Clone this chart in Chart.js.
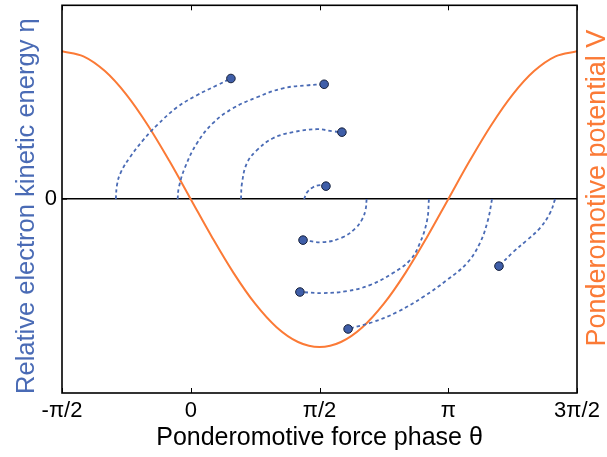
<!DOCTYPE html>
<html><head><meta charset="utf-8">
<script src="https://cdn.jsdelivr.net/npm/chart.js@4/dist/chart.umd.min.js"></script>
<style>html,body{margin:0;padding:0;background:#fff;}#wrap{width:607px;height:457px;}</style>
</head><body><div id="wrap"><canvas id="c" width="607" height="457"></canvas></div>
<script>
// x axis in units of pi
const xTickValues = [-0.5, 0, 0.5, 1, 1.5];
const xTickLabels = ['-π/2', '0', 'π/2', 'π', '3π/2'];
const yTickValues = [0];
const yTickLabels = ['0'];
const xTitle = 'Ponderomotive force phase θ';
const yTitle = 'Relative electron kinetic energy η';
const y2Title = 'Ponderomotive potential V';

// Ponderomotive potential V
const phaseV = [-0.5,-0.4167,-0.3333,-0.25,-0.1667,-0.0833,0,0.0833,0.1667,0.25,0.3333,0.4167,0.5,0.5833,0.6667,0.75,0.8333,0.9167,1,1.0833,1.1667,1.25,1.3333,1.4167,1.5];
const potentialV = [1,0.966,0.866,0.707,0.5,0.259,0,-0.259,-0.5,-0.707,-0.866,-0.966,-1,-0.966,-0.866,-0.707,-0.5,-0.259,0,0.259,0.5,0.707,0.866,0.966,1];

// Electron trajectories (start on zero line, end at dot)
const trajA_x = [-0.291,-0.286,-0.272,-0.236,-0.185,-0.131,-0.053,0.024,0.102,0.156];
const trajA_y = [0,0.1,0.18,0.284,0.399,0.5,0.622,0.703,0.77,0.816];
const trajB_x = [-0.051,-0.046,-0.022,0.024,0.086,0.164,0.257,0.358,0.452,0.518];
const trajB_y = [0,0.081,0.216,0.378,0.514,0.615,0.689,0.75,0.77,0.777];
const trajC_x = [0.195,0.199,0.218,0.257,0.319,0.397,0.490,0.552,0.587];
const trajC_y = [0,0.108,0.243,0.331,0.412,0.453,0.473,0.459,0.453];
const trajD_x = [0.440,0.452,0.475,0.502,0.525];
const trajD_y = [0,0.047,0.081,0.095,0.088];
const trajE_x = [0.683,0.679,0.666,0.640,0.591,0.514,0.436];
const trajE_y = [0,-0.07,-0.135,-0.196,-0.257,-0.291,-0.277];
const trajF_x = [0.925,0.918,0.890,0.852,0.785,0.696,0.607,0.514,0.424];
const trajF_y = [0,-0.142,-0.297,-0.412,-0.5,-0.581,-0.622,-0.635,-0.628];
const trajG_x = [1.170,1.154,1.123,1.073,0.995,0.902,0.801,0.708,0.611];
const trajG_y = [0,-0.142,-0.297,-0.432,-0.547,-0.662,-0.764,-0.831,-0.878];
const trajH_x = [1.415,1.395,1.356,1.306,1.252,1.197];
const trajH_y = [0,-0.095,-0.196,-0.277,-0.358,-0.453];

const trajectories = [
  [trajA_x, trajA_y],[trajB_x, trajB_y],[trajC_x, trajC_y],[trajD_x, trajD_y],
  [trajE_x, trajE_y],[trajF_x, trajF_y],[trajG_x, trajG_y],[trajH_x, trajH_y]
];

const BLUE = '#4a6bb5';
const ORANGE = '#fb7a36';
const FONT = "'Liberation Sans', Arial, sans-serif";

const datasets = [];
datasets.push({
  label: 'V',
  data: phaseV.map((x, i) => ({x, y: potentialV[i]})),
  yAxisID: 'y2',
  showLine: true,
  borderColor: ORANGE,
  borderWidth: 2,
  pointRadius: 0,
  tension: 0.35,
  fill: false,
  order: 2
});
trajectories.forEach(([xs, ys], k) => {
  datasets.push({
    label: 'traj' + k,
    data: xs.map((x, i) => ({x, y: ys[i]})),
    yAxisID: 'y',
    showLine: true,
    borderColor: BLUE,
    borderWidth: 1.8,
    borderDash: [3.5, 3],
    tension: 0.4,
    pointRadius: xs.map((_, i) => i === xs.length - 1 ? 4.3 : 0),
    pointBackgroundColor: '#3f5ea8',
    pointBorderColor: '#16203a',
    pointBorderWidth: 1,
    fill: false,
    order: 1
  });
});

const frame = {
  id: 'frame',
  afterDatasetsDraw(chart) {
    const {ctx, chartArea: a, scales} = chart;
    ctx.save();
    ctx.strokeStyle = '#000';
    ctx.lineWidth = 1.6;
    ctx.strokeRect(a.left, a.top, a.right - a.left, a.bottom - a.top);
    ctx.lineWidth = 1;
    ctx.beginPath();
    xTickValues.forEach(v => {
      const px = Math.round(scales.x.getPixelForValue(v)) + 0.5;
      ctx.moveTo(px, a.bottom); ctx.lineTo(px, a.bottom - 5);
      ctx.moveTo(px, a.top); ctx.lineTo(px, a.top + 5);
    });
    yTickValues.forEach(v => {
      const py = scales.y.getPixelForValue(v);
      ctx.moveTo(a.left, py); ctx.lineTo(a.left + 5, py);
    });
    ctx.stroke();
    ctx.restore();

    const cy = (a.top + a.bottom) / 2;
    // left axis title
    ctx.save();
    ctx.translate(34, cy + 7);
    ctx.rotate(-Math.PI / 2);
    ctx.fillStyle = BLUE;
    ctx.font = "25.5px " + FONT;
    ctx.textAlign = 'center';
    ctx.textBaseline = 'alphabetic';
    ctx.fillText(yTitle, 0, 0);
    ctx.restore();
    // right axis title (reads bottom-to-top)
    ctx.save();
    ctx.translate(605, cy - 11);
    ctx.rotate(-Math.PI / 2);
    ctx.fillStyle = ORANGE;
    ctx.font = "27px " + FONT;
    ctx.textAlign = 'center';
    ctx.textBaseline = 'alphabetic';
    ctx.fillText(y2Title, 0, 0);
    ctx.restore();
  }
};

new Chart(document.getElementById('c'), {
  type: 'scatter',
  data: {datasets},
  options: {
    responsive: false,
    animation: false,
    devicePixelRatio: 1,
    layout: {padding: {top: 5, left: 0, right: 0, bottom: 0}},
    plugins: {legend: {display: false}, tooltip: {enabled: false}},
    scales: {
      x: {
        type: 'linear', min: -0.5, max: 1.5,
        afterBuildTicks: s => { s.ticks = xTickValues.map(v => ({value: v})); },
        afterFit: s => { s.height = 64; s.paddingLeft = 0; s.paddingRight = 0; },
        ticks: {
          callback: v => xTickLabels[xTickValues.indexOf(v)],
          font: {size: 22, family: FONT}, color: '#000', padding: 5, maxRotation: 0
        },
        grid: {display: false, drawTicks: false},
        border: {display: false},
        title: {display: true, text: xTitle, color: '#000',
                font: {size: 25, family: FONT}, padding: {top: 0, bottom: 4}}
      },
      y: {
        type: 'linear', position: 'left', min: -1.311, max: 1.311,
        afterBuildTicks: s => { s.ticks = yTickValues.map(v => ({value: v})); },
        afterFit: s => { s.width = 62; s.paddingTop = 0; s.paddingBottom = 0; },
        ticks: {
          callback: v => yTickLabels[yTickValues.indexOf(v)],
          font: {size: 22, family: FONT}, color: '#000', padding: 5
        },
        grid: {
          drawTicks: false,
          color: c => (c.tick && c.tick.value === 0) ? '#000' : 'rgba(0,0,0,0)',
          lineWidth: 1.5
        },
        border: {display: false},
        title: {display: false, text: yTitle}
      },
      y2: {
        type: 'linear', position: 'right', min: -1.311, max: 1.311,
        afterFit: s => { s.width = 30; s.paddingTop = 0; s.paddingBottom = 0; },
        ticks: {display: false},
        grid: {display: false, drawTicks: false},
        border: {display: false},
        title: {display: false, text: y2Title}
      }
    }
  },
  plugins: [frame]
});
</script></body></html>
